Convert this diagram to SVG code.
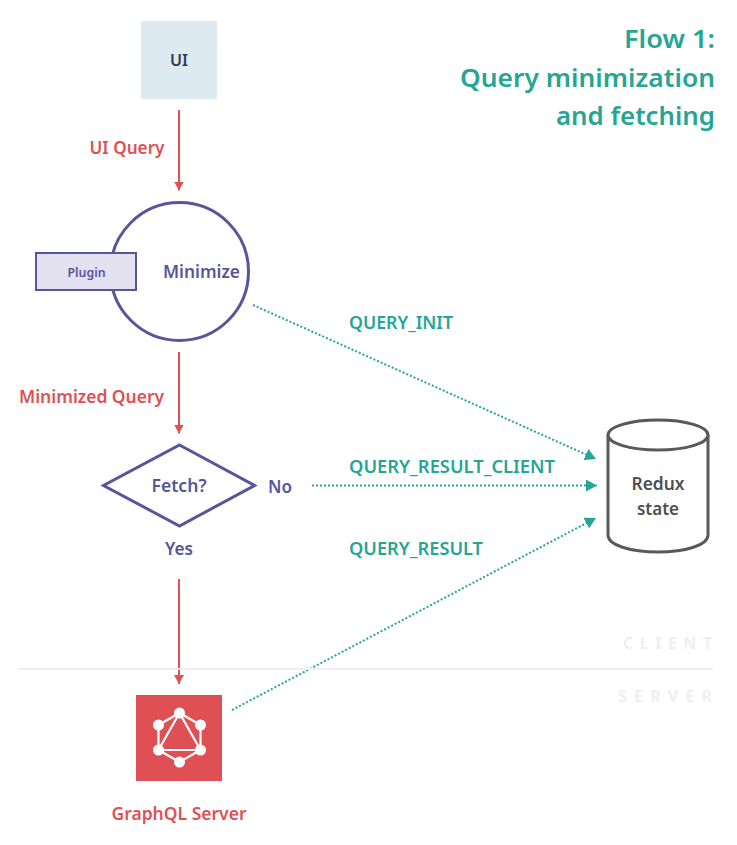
<svg xmlns="http://www.w3.org/2000/svg" width="737" height="845" viewBox="0 0 737 845">
<style>
text{font-family:"Noto Sans","Open Sans",sans-serif;font-weight:600;text-anchor:middle}
.p{fill:#56569c}.r{fill:#df5055}.t{fill:#26a595}.g{fill:#4f4f4f}
.s{fill:#fff;stroke:#56569c;stroke-width:3}
.lr{stroke:#df5055;stroke-width:2;fill:none}
.lt{stroke:#26a595;stroke-width:2;stroke-dasharray:2 2;fill:none}
.w{fill:#fff}.wl{stroke:#fff;stroke-width:2.200;fill:none}
.f{fill:#efefef;font-weight:700}
</style>
<defs>
<marker id="ar" markerUnits="userSpaceOnUse" markerWidth="10" markerHeight="10" refX="9" refY="5" orient="auto"><path d="M0 0L9 5L0 10Z" fill="#df5055"/></marker>
<marker id="at" markerUnits="userSpaceOnUse" markerWidth="12" markerHeight="12" refX="11" refY="6" orient="auto"><path d="M0 0L11 6L0 12Z" fill="#26a595"/></marker>
</defs>
<rect width="737" height="845" fill="#fff"/>
<g id="title" class="t">
<text x="715" y="48" font-size="26" style="text-anchor:end" textLength="91" lengthAdjust="spacingAndGlyphs">Flow 1:</text>
<text x="715" y="87" font-size="26" style="text-anchor:end" textLength="255" lengthAdjust="spacingAndGlyphs">Query minimization</text>
<text x="715" y="125" font-size="26" style="text-anchor:end" textLength="159" lengthAdjust="spacingAndGlyphs">and fetching</text>
</g>
<g id="connectors">
<path class="lr" d="M179 110V190.500" marker-end="url(#ar)"/>
<path class="lr" d="M179 352V433.500" marker-end="url(#ar)"/>
<path class="lr" d="M179 579V684" marker-end="url(#ar)"/>
<path class="lt" d="M253 305L596 459" marker-end="url(#at)"/>
<path class="lt" d="M312 485.500H597" marker-end="url(#at)"/>
<path class="lt" d="M232 710L596 518" marker-end="url(#at)"/>
</g>
<g id="ui">
<rect x="141" y="21" width="76" height="78" fill="#deeaf1"/>
<text x="179" y="66" font-size="16" fill="#2c3e50" textLength="18" lengthAdjust="spacingAndGlyphs">UI</text>
</g>
<g id="ui-query" class="r"><text x="127" y="154" font-size="17" textLength="75" lengthAdjust="spacingAndGlyphs">UI Query</text></g>
<g id="minimize">
<circle class="s" cx="179.500" cy="271.500" r="69"/>
<text class="p" x="201.500" y="278" font-size="17" textLength="77" lengthAdjust="spacingAndGlyphs">Minimize</text>
</g>
<g id="plugin">
<rect x="36" y="253" width="100" height="37" fill="#e3e0f0" stroke="#56569c" stroke-width="2"/>
<text class="p" x="86.500" y="277" font-size="12" textLength="38" lengthAdjust="spacingAndGlyphs">Plugin</text>
</g>
<g id="minimized-query" class="r"><text x="91.500" y="403" font-size="17" textLength="145" lengthAdjust="spacingAndGlyphs">Minimized Query</text></g>
<g id="fetch">
<path class="s" d="M179.500 445L254.500 485.500L179.500 526L103.500 485.500Z"/>
<text class="p" x="179" y="492" font-size="17" textLength="55" lengthAdjust="spacingAndGlyphs">Fetch?</text>
</g>
<g id="no" class="p"><text x="280" y="493" font-size="17" textLength="24" lengthAdjust="spacingAndGlyphs">No</text></g>
<g id="yes" class="p"><text x="179" y="555" font-size="17" textLength="28" lengthAdjust="spacingAndGlyphs">Yes</text></g>
<g id="labels" class="t">
<text x="401" y="329" font-size="17" textLength="104" lengthAdjust="spacingAndGlyphs">QUERY_INIT</text>
<text x="452" y="473" font-size="17" textLength="206" lengthAdjust="spacingAndGlyphs">QUERY_RESULT_CLIENT</text>
<text x="416" y="555" font-size="17" textLength="134" lengthAdjust="spacingAndGlyphs">QUERY_RESULT</text>
</g>
<g id="redux">
<path d="M608 435V535C608 545 630 552 658 552S708 545 708 535V435" fill="#fff" stroke="#595959" stroke-width="3"/>
<ellipse cx="658" cy="435" rx="50" ry="15" fill="#fff" stroke="#595959" stroke-width="3"/>
<text class="g" x="658" y="490" font-size="17" textLength="53" lengthAdjust="spacingAndGlyphs">Redux</text>
<text class="g" x="658" y="515" font-size="17" textLength="42" lengthAdjust="spacingAndGlyphs">state</text>
</g>
<g id="boundary">
<path d="M19 669H713" stroke="#efefef" stroke-width="2" fill="none"/>
<text class="f" x="667" y="649" font-size="16" textLength="89" style="text-anchor:start" dx="-44">CLIENT</text>
<text class="f" x="665" y="702" font-size="16" textLength="94" style="text-anchor:start" dx="-47">SERVER</text>
</g>
<g id="graphql">
<rect x="136" y="695" width="86" height="86" fill="#df5055"/>
<path class="wl" d="M179.500 713L200.500 725V750L179.500 762L158.500 750V725ZM179.500 713L200.500 750H158.500Z"/>
<g class="w">
<circle cx="179.500" cy="713" r="5.500"/><circle cx="200.500" cy="725" r="5.500"/><circle cx="200.500" cy="750" r="5.500"/>
<circle cx="179.500" cy="762" r="5.500"/><circle cx="158.500" cy="750" r="5.500"/><circle cx="158.500" cy="725" r="5.500"/>
</g>
<text class="r" x="179" y="820" font-size="17" textLength="135" lengthAdjust="spacingAndGlyphs">GraphQL Server</text>
</g>
</svg>
